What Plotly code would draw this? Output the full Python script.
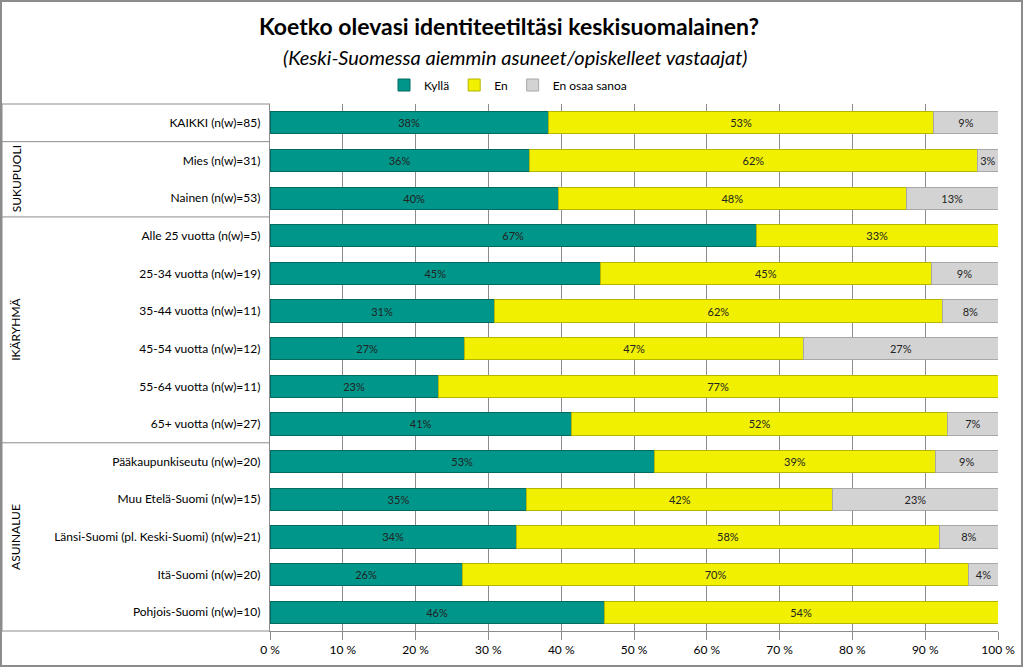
import plotly.graph_objects as go

categories = [
    "KAIKKI (n(w)=85)",
    "Mies (n(w)=31)",
    "Nainen (n(w)=53)",
    "Alle 25 vuotta (n(w)=5)",
    "25-34 vuotta (n(w)=19)",
    "35-44 vuotta (n(w)=11)",
    "45-54 vuotta (n(w)=12)",
    "55-64 vuotta (n(w)=11)",
    "65+ vuotta (n(w)=27)",
    "Pääkaupunkiseutu (n(w)=20)",
    "Muu Etelä-Suomi (n(w)=15)",
    "Länsi-Suomi (pl. Keski-Suomi) (n(w)=21)",
    "Itä-Suomi (n(w)=20)",
    "Pohjois-Suomi (n(w)=10)",
]
kylla = [38.2, 35.6, 39.6, 66.8, 45.4, 30.8, 26.7, 23.1, 41.4, 52.8, 35.3, 33.8, 26.4, 45.9]
en = [53.0, 61.6, 47.8, 33.2, 45.4, 61.6, 46.6, 76.9, 51.7, 38.6, 42.0, 58.2, 69.6, 54.1]
eos = [8.8, 2.8, 12.6, 0, 9.2, 7.6, 26.7, 0, 6.9, 8.6, 22.7, 8.0, 4.0, 0]
series_names = ["Kyllä", "En", "En osaa sanoa"]
groups = [("SUKUPUOLI", 1, 2), ("IKÄRYHMÄ", 3, 8), ("ASUINALUE", 9, 13)]
tick_vals = [0, 10, 20, 30, 40, 50, 60, 70, 80, 90, 100]
tick_text = ["0 %", "10 %", "20 %", "30 %", "40 %", "50 %", "60 %", "70 %", "80 %", "90 %", "100 %"]

colors = ["#00968A", "#F0F000", "#D3D3D3"]
line_colors = ["#006A60", "#B5B500", "#A8A8A8"]

FONT = "Lato"
W, H = 1024, 668
L, R, T, B = 270, 26, 104, 37
pw = W - L - R
ph = H - T - B

fig = go.Figure()
for name, vals, c, lc in zip(series_names, [kylla, en, eos], colors, line_colors):
    txt = ["" if v == 0 else f"{round(v):.0f}%" for v in vals]
    fig.add_trace(go.Bar(
        y=categories, x=vals, name=name, orientation="h",
        marker=dict(color=c, line=dict(color=lc, width=1)),
        text=txt, textposition="inside", insidetextanchor="middle", textangle=0,
        textfont=dict(family=FONT, size=11, color="#222222"),
        constraintext="none",
    ))

def px_x(p):
    return (p - L) / pw

def px_y(p):
    return 1 - (p - T) / ph

shapes = []
shapes.append(dict(type="rect", xref="paper", yref="paper",
                   x0=px_x(1), x1=px_x(1022), y0=px_y(666), y1=px_y(1),
                   line=dict(color="#8C8C8C", width=2), layer="below"))
bounds = [0, 1, 3, 9, 14]
for bi in bounds:
    yy = 1 - bi / len(categories)
    shapes.append(dict(type="line", xref="paper", yref="paper",
                       x0=px_x(2), x1=0, y0=yy, y1=yy,
                       line=dict(color="#8C8C8C", width=1)))
shapes.append(dict(type="line", xref="paper", yref="paper",
                   x0=px_x(2), x1=px_x(2), y0=0, y1=1,
                   line=dict(color="#8C8C8C", width=1)))

annotations = []
annotations.append(dict(text="<i>(Keski-Suomessa aiemmin asuneet/opiskelleet vastaajat)</i>",
                        xref="paper", yref="paper", x=px_x(515), y=px_y(57),
                        xanchor="center", yanchor="middle", showarrow=False,
                        font=dict(family=FONT, size=20, color="#000000")))
for gname, a, b in groups:
    yc = 1 - ((a + b + 1) / 2) / len(categories)
    annotations.append(dict(text=gname, xref="paper", yref="paper",
                            x=px_x(16), y=yc, textangle=-90,
                            xanchor="center", yanchor="middle", showarrow=False,
                            font=dict(family=FONT, size=12, color="#000000")))

fig.update_layout(
    width=W, height=H,
    margin=dict(l=L, r=R, t=T, b=B, autoexpand=False),
    barmode="stack", bargap=0.41,
    paper_bgcolor="white", plot_bgcolor="white",
    title=dict(text="<b>Koetko olevasi identiteetiltäsi keskisuomalainen?</b>",
               x=509 / W, xanchor="center", xref="container",
               y=1 - 27 / H, yanchor="middle", yref="container",
               font=dict(family=FONT, size=23, color="#000000")),
    legend=dict(orientation="h", x=px_x(508), y=px_y(85), xanchor="center", yanchor="middle",
                font=dict(family=FONT, size=12, color="#000000"), traceorder="normal",
                itemwidth=30, bgcolor="rgba(0,0,0,0)"),
    shapes=shapes, annotations=annotations,
    xaxis=dict(range=[0, 100], tickvals=tick_vals, ticktext=tick_text,
               showgrid=True, gridcolor="#8C8C8C", gridwidth=1,
               showline=True, linecolor="#8C8C8C", linewidth=1,
               ticks="outside", ticklen=8, tickcolor="#8C8C8C",
               tickfont=dict(family=FONT, size=12, color="#000000"),
               ticklabeloverflow="allow",
               zeroline=False, fixedrange=True),
    yaxis=dict(autorange="reversed", showline=True, linecolor="#8C8C8C", linewidth=1,
               ticks="", ticksuffix="  ", showgrid=False,
               tickfont=dict(family=FONT, size=12, color="#000000"), fixedrange=True),
)

fig.write_html("out.html", config={"displayModeBar": False},
               post_script="document.body.style.margin='0';document.body.style.overflow='hidden';")
